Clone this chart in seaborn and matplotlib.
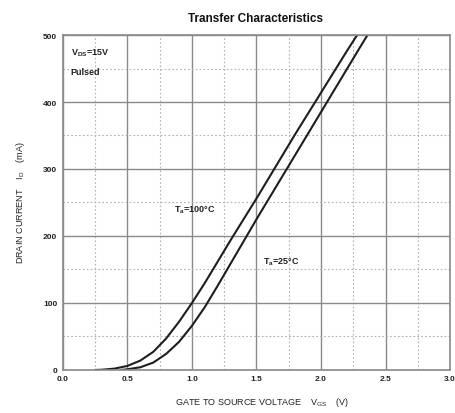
import numpy as np
import pandas as pd
import matplotlib
matplotlib.use("Agg")
import matplotlib.pyplot as plt
import seaborn as sns
from matplotlib.ticker import MultipleLocator

# Gate-source voltage (V) and drain current (mA) at two ambient temperatures
vgs_100 = [0.25, 0.3, 0.4, 0.5, 0.6, 0.7, 0.8, 0.9, 1.0, 1.1, 1.2, 1.3, 1.4, 1.5,
           1.6, 1.7, 1.8, 1.9, 2.0, 2.1, 2.2, 2.28]
id_100 = [0, 0.3, 2, 6, 14, 27, 47, 72, 100, 130, 162, 194, 225, 256,
          288, 320, 352, 383, 414, 445, 476, 500]

vgs_25 = [0.45, 0.5, 0.6, 0.7, 0.8, 0.9, 1.0, 1.1, 1.2, 1.3, 1.4, 1.5,
          1.6, 1.7, 1.8, 1.9, 2.0, 2.1, 2.2, 2.3, 2.36]
id_25 = [0, 1, 4, 11, 24, 42, 66, 94, 126, 159, 192, 225,
         257, 289, 321, 353, 385, 417, 449, 481, 500]

x_ticks = [0.0, 0.5, 1.0, 1.5, 2.0, 2.5, 3.0]
x_tick_labels = ["0.0", "0.5", "1.0", "1.5", "2.0", "2.5", "3.0"]
y_ticks = [0, 100, 200, 300, 400, 500]

df = pd.concat([
    pd.DataFrame({"VGS": vgs_100, "ID": id_100, "Ta": "100"}),
    pd.DataFrame({"VGS": vgs_25, "ID": id_25, "Ta": "25"}),
], ignore_index=True)

sns.set_style("white")
plt.rcParams["font.family"] = ["Liberation Sans", "DejaVu Sans"]
plt.rcParams["mathtext.fontset"] = "custom"
plt.rcParams["mathtext.rm"] = "Liberation Sans"
plt.rcParams["mathtext.bf"] = "Liberation Sans:bold"

fig = plt.figure(figsize=(4.56, 4.14), dpi=100)
ax = fig.add_axes([0.138, 0.104, 0.849, 0.809])

sns.lineplot(data=df, x="VGS", y="ID", units="Ta", estimator=None, sort=False,
             color="#1e1e1e", linewidth=1.5, ax=ax, legend=False)

ax.set_xlim(0, 3.0)
ax.set_ylim(0, 500)
ax.set_xticks(x_ticks)
ax.set_xticklabels(x_tick_labels)
ax.set_yticks(y_ticks)
ax.xaxis.set_minor_locator(MultipleLocator(0.25))
ax.yaxis.set_minor_locator(MultipleLocator(50))

ax.grid(which="major", color="#8a8a8a", linewidth=1.0, linestyle="-")
ax.grid(which="minor", color="#b0b0b0", linewidth=0.8, linestyle=(0, (1.5, 2.0)))
ax.set_axisbelow(True)
for s in ax.spines.values():
    s.set_color("#8a8a8a")
    s.set_linewidth(1.2)

ax.tick_params(axis="both", which="both", length=0, pad=4)
for lab in ax.get_xticklabels() + ax.get_yticklabels():
    lab.set_fontsize(6)
    lab.set_fontweight("bold")
    lab.set_color("#222222")

ax.set_xlabel("")
ax.set_ylabel("")

fig.text(0.56, 0.955, "Transfer Characteristics", ha="center", va="center",
         fontsize=8.5, fontweight="bold", color="#111111")
fig.text(0.575, 0.028, r"GATE TO SOURCE VOLTAGE    V$_{\mathrm{GS}}$    (V)",
         ha="center", va="center", fontsize=6.5, color="#222222")
fig.text(0.045, 0.51, r"DRAIN CURRENT    I$_{\mathrm{D}}$    (mA)",
         ha="center", va="center", rotation=90, fontsize=6.5, color="#222222")

ax.text(0.06, 474, r"V$_{\mathbf{DS}}$=15V", fontsize=6.5, fontweight="bold",
        color="#222222", va="center")
ax.text(0.06, 446, "Pulsed", fontsize=6.5, fontweight="bold", color="#222222",
        va="center")
ax.text(0.86, 240, r"T$_{\mathbf{a}}$=100°C", fontsize=6.5, fontweight="bold",
        color="#222222", va="center")
ax.text(1.55, 162, r"T$_{\mathbf{a}}$=25°C", fontsize=6.5, fontweight="bold",
        color="#222222", va="center")

fig.savefig("out.png", dpi=100, facecolor="white")
